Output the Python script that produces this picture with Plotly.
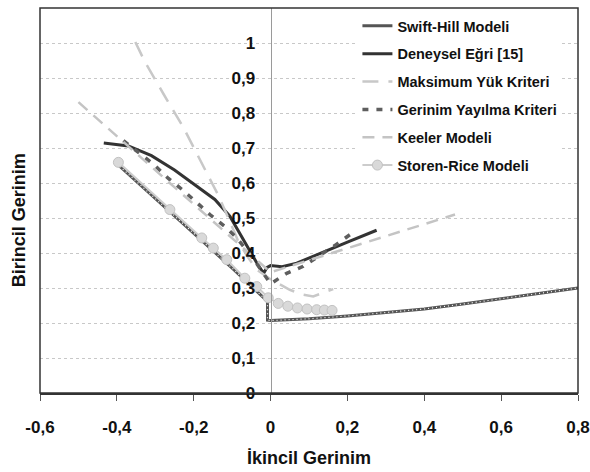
import plotly.graph_objects as go

# ---------------- data ----------------
x_ticks = [-0.6, -0.4, -0.2, 0.0, 0.2, 0.4, 0.6, 0.8]
x_ticktext = ["-0,6", "-0,4", "-0,2", "0", "0,2", "0,4", "0,6", "0,8"]
y_ticks = [0.0, 0.1, 0.2, 0.3, 0.4, 0.5, 0.6, 0.7, 0.8, 0.9, 1.0, 1.1]
y_ticktext = ["0", "0,1", "0,2", "0,3", "0,4", "0,5", "0,6", "0,7", "0,8", "0,9", "1", "1,1"]

swift_x = [-0.40, -0.30, -0.20, -0.10, -0.008, -0.008, 0.0, 0.1, 0.2, 0.3, 0.4, 0.5, 0.6, 0.7, 0.8]
swift_y = [0.655, 0.555, 0.457, 0.357, 0.262, 0.208, 0.207, 0.212, 0.22, 0.229, 0.24, 0.254, 0.27, 0.285, 0.30]

deney_x = [-0.434, -0.37, -0.31, -0.25, -0.2, -0.145, -0.106, -0.062, -0.035, -0.018, -0.01, 0.0, 0.03, 0.068, 0.13, 0.2, 0.276]
deney_y = [0.714, 0.706, 0.678, 0.637, 0.597, 0.553, 0.505, 0.42, 0.37, 0.342, 0.358, 0.364, 0.361, 0.371, 0.40, 0.431, 0.465]

maks_x = [-0.352, -0.327, -0.279, -0.227, -0.162, -0.136, -0.106, -0.084, -0.06, -0.036, 0.0, 0.05, 0.08, 0.111, 0.163]
maks_y = [1.003, 0.946, 0.855, 0.759, 0.62, 0.565, 0.49, 0.433, 0.39, 0.352, 0.325, 0.295, 0.282, 0.276, 0.297]

gerinim_x = [-0.383, -0.305, -0.266, -0.231, -0.192, -0.158, -0.119, -0.088, -0.049, -0.006, 0.0, 0.042, 0.085, 0.168, 0.21]
gerinim_y = [0.721, 0.654, 0.613, 0.582, 0.544, 0.51, 0.476, 0.443, 0.39, 0.323, 0.312, 0.342, 0.362, 0.422, 0.455]

keeler_x = [-0.50, 0.0, 0.48]
keeler_y = [0.831, 0.345, 0.51]

storen_x = [-0.396, -0.262, -0.179, -0.149, -0.114, -0.067, -0.036, -0.006, 0.02, 0.045, 0.07, 0.095, 0.12, 0.14, 0.16]
storen_y = [0.659, 0.524, 0.443, 0.414, 0.381, 0.328, 0.304, 0.272, 0.256, 0.248, 0.243, 0.24, 0.238, 0.237, 0.236]

names = ["Swift-Hill Modeli", "Deneysel Eğri [15]", "Maksimum Yük Kriteri",
         "Gerinim Yayılma Kriteri", "Keeler Modeli", "Storen-Rice Modeli"]

# ---------------- figure ----------------
FONT = "Liberation Sans, Arial, sans-serif"
fig = go.Figure()

fig.add_trace(go.Scatter(x=swift_x, y=swift_y, mode="lines", name=names[0],
                         legendgroup="g0", line=dict(color="#555555", width=3)))
fig.add_trace(go.Scatter(x=swift_x, y=swift_y, mode="lines", showlegend=False,
                         legendgroup="g0", hoverinfo="skip",
                         line=dict(color="#ffffff", width=1.2, dash="1px,3px")))
fig.add_trace(go.Scatter(x=deney_x, y=deney_y, mode="lines", name=names[1],
                         legendgroup="g1", line=dict(color="#333333", width=3)))
fig.add_trace(go.Scatter(x=maks_x, y=maks_y, mode="lines", name=names[2],
                         legendgroup="g2", line=dict(color="#c8c8c8", width=2.5, dash="16px,10px")))
fig.add_trace(go.Scatter(x=gerinim_x, y=gerinim_y, mode="lines", name=names[3],
                         legendgroup="g3", line=dict(color="#5e5e5e", width=3.5, dash="6px,8px")))
fig.add_trace(go.Scatter(x=keeler_x, y=keeler_y, mode="lines", name=names[4],
                         legendgroup="g4", line=dict(color="#c4c4c4", width=2.5, dash="12px,8px")))
fig.add_trace(go.Scatter(x=storen_x, y=storen_y, mode="lines+markers", name=names[5],
                         legendgroup="g5", line=dict(color="#cccccc", width=2),
                         marker=dict(symbol="circle", size=10, color="#d9d9d9",
                                     line=dict(color="#c2c2c2", width=1))))

fig.update_layout(
    width=590, height=472,
    margin=dict(l=40, r=12, t=8, b=79, autoexpand=False),
    paper_bgcolor="white", plot_bgcolor="white",
    font=dict(family=FONT, color="#111111"),
    showlegend=True,
    legend=dict(x=0.59, y=0.995, xanchor="left", yanchor="top",
                bgcolor="white", borderwidth=0, tracegroupgap=6,
                itemwidth=30,
                font=dict(family=FONT, size=14.5, color="#111111", weight="bold")),
    xaxis=dict(range=[-0.6, 0.8], tickvals=x_ticks, ticktext=x_ticktext,
               showgrid=False, zeroline=False, showline=True, automargin=False,
               linecolor="#333333", linewidth=1.5, ticks="outside", ticklen=6,
               tickcolor="#555555", ticklabelstandoff=12,
               tickfont=dict(family=FONT, size=17, color="#111111", weight="bold")),
    yaxis=dict(range=[0, 1.1], tickvals=y_ticks, ticktext=y_ticktext,
               showgrid=True, gridcolor="#c8c8c8", griddash="dot", gridwidth=1,
               zeroline=False, showline=True, linecolor="#9a9a9a", linewidth=1,
               automargin=False,
               anchor="free", position=0.6 / 1.4, ticks="", ticklabelstandoff=12,
               tickfont=dict(family=FONT, size=17, color="#111111", weight="bold")),
    shapes=[dict(type="rect", xref="paper", yref="paper", x0=0, x1=1, y0=0, y1=1,
                 line=dict(color="#333333", width=1.5), layer="above")],
    annotations=[
        dict(text="Birincil Gerinim", xref="paper", yref="paper", x=-0.04, y=0.45,
             xanchor="center", yanchor="middle", textangle=-90, showarrow=False,
             font=dict(family=FONT, size=18, color="#111111", weight="bold")),
        dict(text="İkincil Gerinim", xref="paper", yref="paper", x=0.5, y=-0.17,
             xanchor="center", yanchor="middle", showarrow=False,
             font=dict(family=FONT, size=18, color="#111111", weight="bold")),
    ],
)

fig.write_html("out.html")
